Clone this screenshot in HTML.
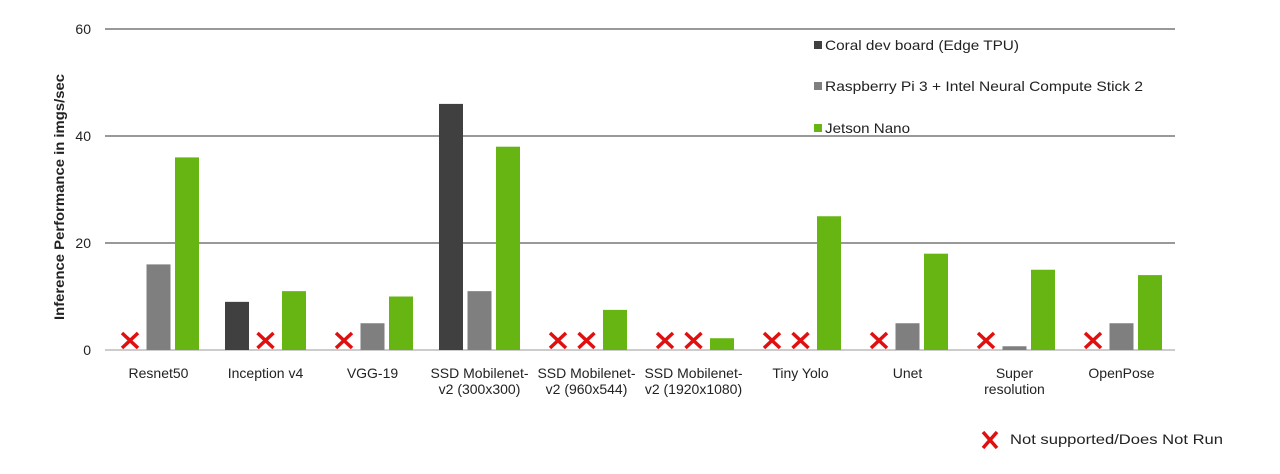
<!DOCTYPE html>
<html><head><meta charset="utf-8"><style>
html,body{margin:0;padding:0;background:#fff;}
svg text{font-family:"Liberation Sans",sans-serif;fill:#222;}
</style></head><body>
<svg id="chart" width="1280" height="469" xmlns="http://www.w3.org/2000/svg">
<g id="grid" shape-rendering="crispEdges"></g>
<g id="bars"></g>
<g id="xlabels"></g>
<g id="ylabels"></g>
<text transform="translate(64,197) rotate(-90)" text-anchor="middle" font-size="14" font-weight="bold" textLength="246" lengthAdjust="spacingAndGlyphs">Inference Performance in imgs/sec</text>
<g>
<rect x="814" y="41" width="8" height="8" fill="#404040"/>
<text x="825" y="50" font-size="14" textLength="194" lengthAdjust="spacingAndGlyphs">Coral dev board (Edge TPU)</text>
<rect x="814" y="82" width="8" height="8" fill="#7f7f7f"/>
<text x="825" y="91" font-size="14" textLength="318" lengthAdjust="spacingAndGlyphs">Raspberry Pi 3 + Intel Neural Compute Stick 2</text>
<rect x="814" y="124" width="8" height="8" fill="#66b512"/>
<text x="825" y="133" font-size="14" textLength="85" lengthAdjust="spacingAndGlyphs">Jetson Nano</text>
</g>
<g>
<path d="M983 432 L997 448 M997 432 L983 448" stroke="#e01010" stroke-width="3.5"/>
<text x="1010" y="444" font-size="14" textLength="213" lengthAdjust="spacingAndGlyphs">Not supported/Does Not Run</text>
</g>
</svg>
<script>
const categories=[["Resnet50"],["Inception v4"],["VGG-19"],["SSD Mobilenet-","v2 (300x300)"],["SSD Mobilenet-","v2 (960x544)"],["SSD Mobilenet-","v2 (1920x1080)"],["Tiny Yolo"],["Unet"],["Super","resolution"],["OpenPose"]];
const coral=[null,9,null,46,null,null,null,null,null,null];
const pi=[16,null,5,11,null,null,null,5,0.7,5];
const jetson=[36,11,10,38,7.5,2.2,25,18,15,14];
const yTicks=[0,20,40,60];
const NS="http://www.w3.org/2000/svg";
const x0=105,x1=1175,yb=350,yt=29,ymax=60;
const gw=(x1-x0)/categories.length;
function y(v){return yb-(v/ymax)*(yb-yt);}
function cx(i){return x0+gw*(i+0.5);}
function mk(tag,attrs,parent){const e=document.createElementNS(NS,tag);for(const k in attrs)e.setAttribute(k,attrs[k]);document.getElementById(parent).appendChild(e);return e;}
yTicks.forEach(t=>{
  const l=mk('line',{x1:x0,x2:x1,y1:y(t),y2:y(t),stroke:t===0?'#999':'#333','stroke-width':1},'grid');
  
  
  const tx=mk('text',{x:91,y:y(t)+5,'text-anchor':'end','font-size':14},'ylabels');
  tx.textContent=t;
  
  
});
const series=[[coral,'#404040',-28.5,'coral'],[pi,'#7f7f7f',0,'pi'],[jetson,'#66b512',28.5,'jetson']];
categories.forEach((c,i)=>{
  series.forEach(([arr,col,off,nm])=>{
    const v=arr[i];const c0=cx(i)+off;
    if(v===null){
      const p=mk('path',{d:`M${c0-8} ${yb-17} L${c0+8} ${yb-2} M${c0+8} ${yb-17} L${c0-8} ${yb-2}`,stroke:'#e01010','stroke-width':3.5},'bars');
      
      
    } else {
      const r=mk('rect',{x:c0-12,y:y(v),width:24,height:yb-y(v),fill:col},'bars');
      
      
    }
  });
  c.forEach((line,j)=>{
    const t=mk('text',{x:cx(i),y:378+j*16,'text-anchor':'middle','font-size':14},'xlabels');
    t.textContent=line;
    
    
  });
});
</script>
</body></html>
